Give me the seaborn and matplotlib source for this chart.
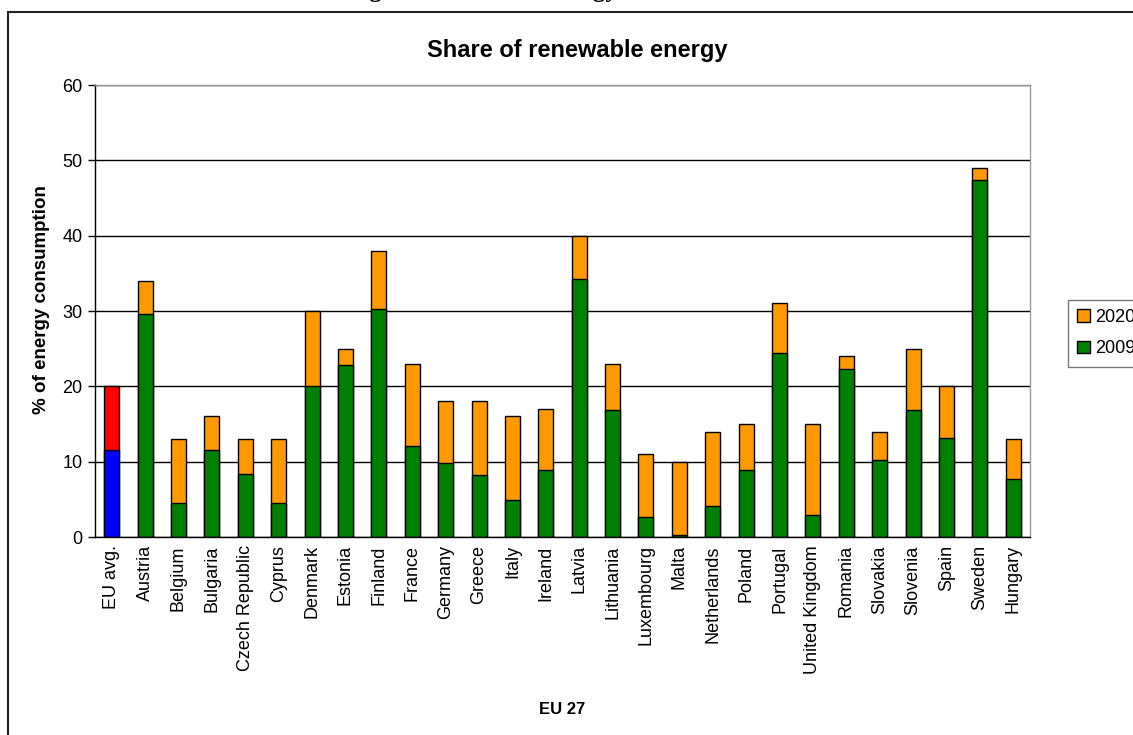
import pandas as pd
import matplotlib
matplotlib.use('Agg')
import matplotlib.pyplot as plt
from matplotlib.patches import Patch, Rectangle
from matplotlib.ticker import FixedLocator
import seaborn as sns

# 数据
countries = ['EU avg.', 'Austria', 'Belgium', 'Bulgaria', 'Czech Republic', 'Cyprus',
             'Denmark', 'Estonia', 'Finland', 'France', 'Germany', 'Greece', 'Italy',
             'Ireland', 'Latvia', 'Lithuania', 'Luxembourg', 'Malta', 'Netherlands',
             'Poland', 'Portugal', 'United Kingdom', 'Romania', 'Slovakia', 'Slovenia',
             'Spain', 'Sweden', 'Hungary']
share_2009 = [11.5, 29.6, 4.5, 11.6, 8.4, 4.5, 20.0, 22.8, 30.3, 12.1, 9.8, 8.2, 4.9,
              8.9, 34.3, 16.9, 2.7, 0.2, 4.1, 8.9, 24.4, 2.9, 22.3, 10.2, 16.9, 13.2,
              47.4, 7.7]
target_2020 = [20, 34, 13, 16, 13, 13, 30, 25, 38, 23, 18, 18, 16, 17, 40, 23, 11, 10,
               14, 15, 31, 15, 24, 14, 25, 20, 49, 13]

df = pd.DataFrame({'country': countries, '2009': share_2009, '2020': target_2020})
n = len(countries)

W, H = 1133, 735
sns.set_style('white')
plt.rcParams['font.family'] = ['Liberation Sans', 'DejaVu Sans']
plt.rcParams['text.color'] = 'black'
plt.rcParams['xtick.color'] = 'black'
plt.rcParams['ytick.color'] = 'black'

fig = plt.figure(figsize=(W / 100, H / 100), dpi=100)
ax = fig.add_axes([95 / W, 1 - 537 / H, 935 / W, 452 / H])

# 2020 目标（上层）与 2009 实际（下层）
top_colors = ['#FF0000'] + ['#FF9900'] * (n - 1)
bot_colors = ['#0000FF'] + ['#008000'] * (n - 1)
sns.barplot(data=df, x='country', y='2020', hue='country', palette=top_colors,
            width=0.45, edgecolor='black', linewidth=1, saturation=1, legend=False, ax=ax)
sns.barplot(data=df, x='country', y='2009', hue='country', palette=bot_colors,
            width=0.45, edgecolor='black', linewidth=1, saturation=1, legend=False, ax=ax)

ax.set_xlim(-0.5, n - 0.5)
ax.set_ylim(0, 60)
ax.set_yticks(range(0, 61, 10))
ax.yaxis.grid(True, color='black', linewidth=1)
ax.set_axisbelow(True)
ax.set_xlabel('')
ax.set_ylabel('')

ax.tick_params(axis='x', which='major', length=0, labelsize=13, rotation=90, pad=6)
ax.xaxis.set_minor_locator(FixedLocator([i - 0.5 for i in range(n + 1)]))
ax.tick_params(axis='x', which='minor', length=5, direction='out', color='black', width=1)
ax.tick_params(axis='y', length=5, direction='out', color='black', width=1, labelsize=13, pad=4)
ax.tick_params(bottom=True, left=True)

for side in ['top', 'right']:
    ax.spines[side].set_color('#999999')
for side in ['left', 'bottom']:
    ax.spines[side].set_color('black')
for sp in ax.spines.values():
    sp.set_linewidth(1)

# 文字
fig.text(577 / W, 1 - 50 / H, 'Share of renewable energy', ha='center', va='center',
         fontsize=17, fontweight='bold')
fig.text(42 / W, 1 - 300 / H, '% of energy consumption', ha='center', va='center',
         rotation=90, fontsize=13.5, fontweight='bold')
fig.text(562 / W, 1 - 710 / H, 'EU 27', ha='center', va='center', fontsize=12, fontweight='bold')
# 页面上方被裁掉的图题，只露出下沿
fig.text(612 / W, 1 + 3 / H, 'Figure 1: Share of energy from renewable sources',
         ha='center', va='baseline', fontsize=18, fontweight='bold', family='Liberation Serif')

# 图例
handles = [Patch(facecolor='#FF9900', edgecolor='black', label='2020'),
           Patch(facecolor='#008000', edgecolor='black', label='2009')]
leg = fig.legend(handles=handles, loc='upper left', bbox_to_anchor=(1068 / W, 1 - 300 / H),
                 fontsize=13, frameon=True, fancybox=False, handlelength=0.7, handleheight=0.7,
                 handletextpad=0.3, labelspacing=0.8, borderpad=0.5, borderaxespad=0)
leg.get_frame().set_edgecolor('#555555')
leg.get_frame().set_linewidth(1)

# 外框
fig.add_artist(Rectangle((8 / W, -0.1), 1.2, 1.1 - 12 / H, transform=fig.transFigure,
                         fill=False, edgecolor='#222222', linewidth=1.5))

fig.savefig('out.png', dpi=100)
